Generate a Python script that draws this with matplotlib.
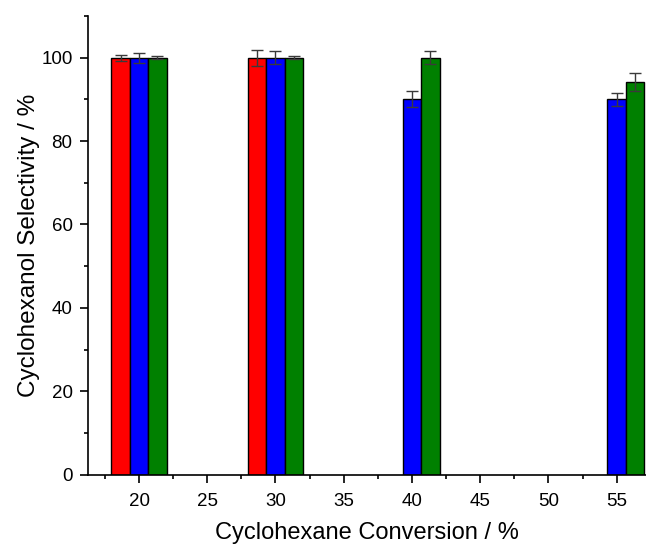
import matplotlib.pyplot as plt
import numpy as np
from matplotlib.ticker import MultipleLocator

plt.rcParams['font.family'] = ['Liberation Sans', 'DejaVu Sans']

# conversion (%) of each group
conversion = [20, 30, 40, 55]

# selectivity values (%) and error bars for the three series, None = no bar
red_vals = [100, 100, None, None]
red_err = [0.75, 1.9, None, None]
blue_vals = [100, 100, 90, 90]
blue_err = [1.2, 1.5, 1.9, 1.6]
green_vals = [100, 100, 100, 94.2]
green_err = [0.4, 0.3, 1.5, 2.2]

w = 1.35

fig = plt.figure(figsize=(6.46, 5.44), dpi=100)
ax = fig.add_axes([0.136, 0.1274, 0.864, 0.8432])


def draw(offset, vals, errs, color):
    xs = [c + offset for c, v in zip(conversion, vals) if v is not None]
    ys = [v for v in vals if v is not None]
    es = [e for v, e in zip(vals, errs) if v is not None]
    ax.bar(xs, ys, width=w, color=color, edgecolor='black', linewidth=1.0, zorder=2)
    ax.errorbar(xs, ys, yerr=es, fmt='none', ecolor='#3a3a3a', elinewidth=1.0,
                capsize=4, capthick=1.0, zorder=3)


draw(-w, red_vals, red_err, '#ff0000')
draw(0, blue_vals, blue_err, '#0000ff')
draw(w, green_vals, green_err, '#008000')

ax.set_xlim(16.25, 57.15)
ax.set_ylim(0, 110)
ax.xaxis.set_major_locator(MultipleLocator(5))
ax.xaxis.set_minor_locator(MultipleLocator(2.5))
ax.yaxis.set_major_locator(MultipleLocator(20))
ax.yaxis.set_minor_locator(MultipleLocator(10))
ax.set_xticks(np.arange(20, 56, 5))

ax.spines['top'].set_visible(False)
ax.spines['right'].set_visible(False)
ax.spines['left'].set_linewidth(1.2)
ax.spines['bottom'].set_linewidth(1.2)
ax.tick_params(which='major', direction='out', length=6, width=1.2, labelsize=13.5)
ax.tick_params(which='minor', direction='out', length=3, width=1.2)
ax.tick_params(axis='x', which='major', pad=7)
ax.tick_params(axis='y', which='major', pad=5)

ax.set_xlabel('Cyclohexane Conversion / %', fontsize=17, labelpad=9)
ax.set_ylabel('Cyclohexanol Selectivity / %', fontsize=17.5, labelpad=1)

fig.savefig('out.png', dpi=100)
